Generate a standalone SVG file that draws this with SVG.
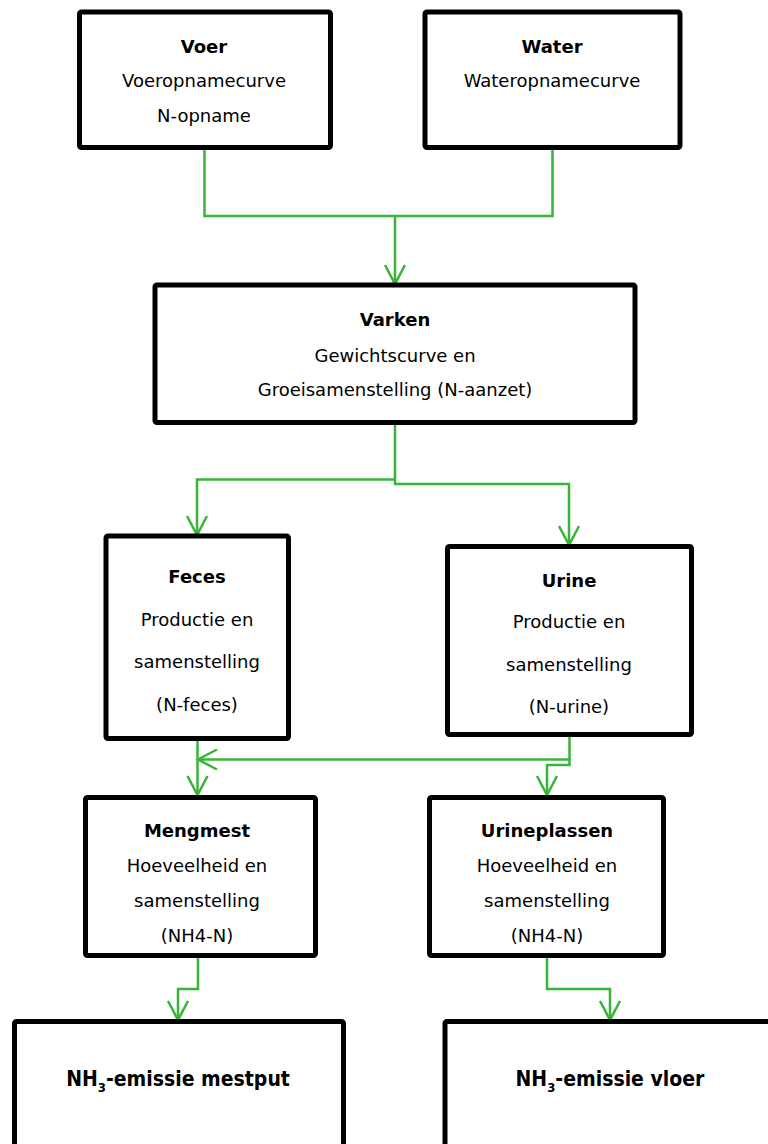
<svg xmlns="http://www.w3.org/2000/svg" width="768" height="1144" viewBox="0 0 768 1144">
<style>
  .box { fill: #ffffff; stroke: #000000; stroke-width: 5; }
  .t { font-family: "DejaVu Sans", Verdana, sans-serif; font-size: 18px; fill: #000000; text-anchor: middle; }
  .b { font-weight: bold; }
  .big { font-family: "DejaVu Sans Condensed", "DejaVu Sans", sans-serif; font-weight: bold; font-size: 21px; fill: #000000; text-anchor: middle; }
  .sub { font-size: 13px; }
  .c { fill: none; stroke: #38b538; stroke-width: 2.5; }
  .ca { fill: none; stroke: #38b538; stroke-width: 2.5; marker-end: url(#arr); }
</style>
<defs>
  <marker id="arr" markerUnits="userSpaceOnUse" viewBox="-22 -12 24 24" refX="0" refY="0" markerWidth="24" markerHeight="24" orient="auto" overflow="visible">
    <path d="M -19 -10 L 0 0 L -19 10" fill="none" stroke="#38b538" stroke-width="2.5"/>
  </marker>
</defs>
<rect width="768" height="1144" fill="#ffffff"/>

<g id="connectors">
  <path class="c" d="M204.5 149 V216 H552.5 V149"/>
  <path class="ca" d="M395 216 V284"/>
  <path class="ca" d="M395 424 V479.5 H197 V535"/>
  <path class="ca" d="M395 479.5 V484 H569 V545"/>
  <path class="ca" d="M197.5 740 V795"/>
  <path class="ca" d="M569.5 736 V765 H547 V795"/>
  <path class="ca" d="M569.5 759.5 H198"/>
  <path class="ca" d="M198 958 V989 H178 V1020"/>
  <path class="ca" d="M547 958 V989 H610 V1020"/>
</g>

<g id="voer">
  <rect class="box" x="79.5" y="12" width="251" height="135.5" rx="2"/>
  <text class="t b" x="204" y="53">Voer</text>
  <text class="t" x="204" y="87">Voeropnamecurve</text>
  <text class="t" x="204" y="122">N-opname</text>
</g>

<g id="water">
  <rect class="box" x="425" y="12" width="255" height="135.5" rx="2"/>
  <text class="t b" x="552" y="53">Water</text>
  <text class="t" x="552" y="87">Wateropnamecurve</text>
</g>

<g id="varken">
  <rect class="box" x="155" y="285" width="480" height="137.5" rx="2"/>
  <text class="t b" x="395" y="326">Varken</text>
  <text class="t" x="395" y="362">Gewichtscurve en</text>
  <text class="t" x="395" y="396">Groeisamenstelling (N-aanzet)</text>
</g>

<g id="feces">
  <rect class="box" x="106" y="536" width="182.5" height="202.5" rx="2"/>
  <text class="t b" x="197" y="583">Feces</text>
  <text class="t" x="197" y="626">Productie en</text>
  <text class="t" x="197" y="668">samenstelling</text>
  <text class="t" x="197" y="711">(N-feces)</text>
</g>

<g id="urine">
  <rect class="box" x="447.5" y="546.5" width="244" height="188" rx="2"/>
  <text class="t b" x="569" y="587">Urine</text>
  <text class="t" x="569" y="628">Productie en</text>
  <text class="t" x="569" y="671">samenstelling</text>
  <text class="t" x="569" y="713">(N-urine)</text>
</g>

<g id="mengmest">
  <rect class="box" x="85.5" y="797.5" width="230" height="158" rx="2"/>
  <text class="t b" x="197" y="837">Mengmest</text>
  <text class="t" x="197" y="872">Hoeveelheid en</text>
  <text class="t" x="197" y="907">samenstelling</text>
  <text class="t" x="197" y="942">(NH4-N)</text>
</g>

<g id="urineplassen">
  <rect class="box" x="429.5" y="797.5" width="234" height="158" rx="2"/>
  <text class="t b" x="547" y="837">Urineplassen</text>
  <text class="t" x="547" y="872">Hoeveelheid en</text>
  <text class="t" x="547" y="907">samenstelling</text>
  <text class="t" x="547" y="942">(NH4-N)</text>
</g>

<g id="emissie-mestput">
  <rect class="box" x="14.5" y="1021.5" width="329" height="200" rx="2"/>
  <text class="big" x="178" y="1086">NH<tspan class="sub" dy="6">3</tspan><tspan dy="-6">-emissie mestput</tspan></text>
</g>

<g id="emissie-vloer">
  <rect class="box" x="445" y="1021.5" width="400" height="200" rx="2"/>
  <text class="big" x="610" y="1086">NH<tspan class="sub" dy="6">3</tspan><tspan dy="-6">-emissie vloer</tspan></text>
</g>
</svg>
